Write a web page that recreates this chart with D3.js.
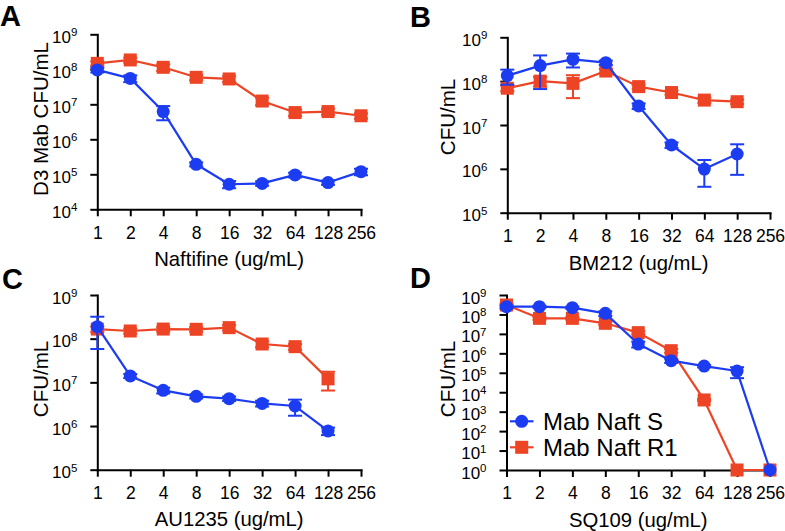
<!DOCTYPE html>
<html>
<head>
<meta charset="utf-8">
<script src="https://cdn.jsdelivr.net/npm/d3@7"></script>
<style>
  html, body { margin: 0; padding: 0; background: #fff; }
  svg { display: block; font-family: "Liberation Sans", Arial, Helvetica, sans-serif; }
</style>
</head>
<body>
<svg id="chart" width="785" height="531"></svg>
<script>
// ---------- DATA ----------
const doses = [1, 2, 4, 8, 16, 32, 64, 128, 256];
const xTickLabels = ["1", "2", "4", "8", "16", "32", "64", "128", "256"];
const seriesNames = ["Mab Naft S", "Mab Naft R1"];

// Panel A – Naftifine
const aS    = [9.6e7, 5.5e7, 6.2e6, 1.93e5, 5.2e4, 5.5e4, 9.6e4, 5.8e4, 1.19e5];
const aS_sd = [1.5e7, 1.2e7, 2.7e6, 2.5e4, 1.2e4, 8e3, 1.5e4, 8e3, 2.5e4];
const aR    = [1.48e8, 1.85e8, 1.14e8, 5.9e7, 5.3e7, 1.24e7, 5.8e6, 6.2e6, 4.7e6];
const aR_sd = [2e7, 3e7, 2.5e7, 1e7, 1e7, 3e6, 1.2e6, 1.2e6, 8e5];

// Panel B – BM212
const bS    = [1.33e8, 2.26e8, 3.15e8, 2.64e8, 2.71e7, 3.5e6, 9.9e5, 2.18e6];
const bS_sd = [5e7, 1.6e8, 1.1e8, 3e7, 4e6, 5e5, 6e5, 1.45e6];
const bR    = [6.9e7, 1.0e8, 8.9e7, 1.7e8, 7.5e7, 5.5e7, 3.7e7, 3.4e7];
const bR_sd = [1e7, 2.5e7, 4.8e7, 2e7, 8e6, 6e6, 5e6, 4e6];

// Panel C – AU1235
const cS    = [1.88e8, 1.4e7, 6.56e6, 4.78e6, 4.23e6, 3.3e6, 2.87e6, 7.7e5];
const cS_sd = [1.3e8, 1.5e6, 1e6, 5e5, 5e5, 5e5, 1.15e6, 1.5e5];
const cR    = [1.66e8, 1.5e8, 1.66e8, 1.64e8, 1.79e8, 7.55e7, 6.56e7, 1.2e7];
const cR_sd = [2.5e7, 2e7, 2e7, 2e7, 2.5e7, 1.2e7, 1e7, 5.5e6];

// Panel D – SQ109
const dS    = [2.5e8, 2.5e8, 2.23e8, 1.14e8, 3.0e6, 4.2e5, 2.2e5, 1.23e5, 1];
const dS_sd = [5e7, 3e7, 3e7, 3e7, 1e6, 1e5, 3e4, 7e4, 0];
const dR    = [3.06e8, 6.3e7, 6.3e7, 3.5e7, 1.16e7, 1.37e6, 4.0e3, 1, 1];
const dR_sd = [6e7, 1e7, 1e7, 6e6, 2e6, 3e5, 500, 0, 0];

// y tick exponents per panel
const yExpA = [4, 5, 6, 7, 8, 9];
const yExpB = [5, 6, 7, 8, 9];
const yExpC = [5, 6, 7, 8, 9];
const yExpD = [0, 1, 2, 3, 4, 5, 6, 7, 8, 9];

const xTitles = ["Naftifine (ug/mL)", "BM212 (ug/mL)", "AU1235 (ug/mL)", "SQ109 (ug/mL)"];
const yTitles = ["D3 Mab CFU/mL", "CFU/mL", "CFU/mL", "CFU/mL"];
const panelLetters = ["A", "B", "C", "D"];

// ---------- STYLE / LAYOUT ----------
const BLUE = "#1c3cf2";
const RED = "#ee4426";

const panels = [
  { letter: panelLetters[0], lx: 0, ly: 26, x0: 97.3, x1: 361, yTop: 34.3, yBot: 209.3, yExp: yExpA,
    S: aS, Ssd: aS_sd, R: aR, Rsd: aR_sd, xt: xTitles[0], xtY: 266, yt: yTitles[0], ytX: 48, ytY: 119 },
  { letter: panelLetters[1], lx: 410, ly: 27, x0: 507.3, x1: 770, yTop: 37.3, yBot: 212.7, yExp: yExpB,
    S: bS, Ssd: bS_sd, R: bR, Rsd: bR_sd, xt: xTitles[1], xtY: 269.5, yt: yTitles[1], ytX: 455, ytY: 117 },
  { letter: panelLetters[2], lx: 2, ly: 289, x0: 97.3, x1: 361, yTop: 295, yBot: 469.7, yExp: yExpC,
    S: cS, Ssd: cS_sd, R: cR, Rsd: cR_sd, xt: xTitles[2], xtY: 526, yt: yTitles[2], ytX: 48, ytY: 379 },
  { letter: panelLetters[3], lx: 410, ly: 288, x0: 506.5, x1: 770, yTop: 295, yBot: 470, yExp: yExpD,
    S: dS, Ssd: dS_sd, R: dR, Rsd: dR_sd, xt: xTitles[3], xtY: 526.5, yt: yTitles[3], ytX: 455, ytY: 379, legend: true }
];

const svg = d3.select("#chart");

function drawSeries(g, x, y, vals, sds, color, shape) {
  const pts = vals.map((v, i) => ({ d: doses[i], v: v, sd: sds[i] }));
  const ymin = y.domain()[0];
  // error bars
  const eb = g.append("g").attr("stroke", color).attr("stroke-width", 2).attr("fill", "none");
  pts.forEach(p => {
    if (!p.sd) return;
    const cx = x(p.d);
    const hi = p.v + p.sd;
    const lo = p.v - p.sd;
    eb.append("line").attr("x1", cx).attr("x2", cx).attr("y1", y(p.v)).attr("y2", y(hi));
    eb.append("line").attr("x1", cx - 7).attr("x2", cx + 7).attr("y1", y(hi)).attr("y2", y(hi));
    if (lo > ymin) {
      eb.append("line").attr("x1", cx).attr("x2", cx).attr("y1", y(p.v)).attr("y2", y(lo));
      eb.append("line").attr("x1", cx - 7).attr("x2", cx + 7).attr("y1", y(lo)).attr("y2", y(lo));
    }
  });
  // line
  const line = d3.line().x(p => x(p.d)).y(p => y(p.v));
  g.append("path").datum(pts).attr("d", line).attr("fill", "none")
    .attr("stroke", color).attr("stroke-width", 2.2).attr("stroke-linejoin", "round");
  // markers
  if (shape === "circle") {
    g.append("g").selectAll("circle").data(pts).join("circle")
      .attr("cx", p => x(p.d)).attr("cy", p => y(p.v)).attr("r", 6.5).attr("fill", color);
  } else {
    g.append("g").selectAll("rect").data(pts).join("rect")
      .attr("x", p => x(p.d) - 6.5).attr("y", p => y(p.v) - 6.5)
      .attr("width", 13).attr("height", 13).attr("fill", color);
  }
}

panels.forEach(P => {
  const g = svg.append("g");
  const x = d3.scaleLog().base(2).domain([1, 256]).range([P.x0, P.x1]);
  const yLo = Math.pow(10, P.yExp[0]);
  const yHi = Math.pow(10, P.yExp[P.yExp.length - 1]);
  const y = d3.scaleLog().domain([yLo, yHi]).range([P.yBot, P.yTop]);

  // panel letter
  g.append("text").attr("x", P.lx).attr("y", P.ly).attr("font-size", 29).attr("font-weight", "bold")
    .attr("fill", "#000").text(P.letter);

  // x axis
  const xAxis = d3.axisBottom(x).tickValues(doses)
    .tickFormat((d, i) => xTickLabels[i]).tickSize(7).tickSizeOuter(0).tickPadding(10);
  const gx = g.append("g").attr("transform", `translate(0,${P.yBot})`).call(xAxis);
  gx.attr("font-family", null).attr("font-size", null);
  gx.select(".domain").attr("stroke", "#000").attr("stroke-width", 2).attr("stroke-linecap", "square");
  gx.selectAll(".tick line").attr("stroke", "#000").attr("stroke-width", 2);
  gx.selectAll(".tick text").attr("font-size", 17.5).attr("fill", "#000");

  // y axis
  const yAxis = d3.axisLeft(y).tickValues(P.yExp.map(e => Math.pow(10, e)))
    .tickFormat(() => "10").tickSize(7).tickSizeOuter(0).tickPadding(5);
  const gy = g.append("g").attr("transform", `translate(${P.x0},0)`).call(yAxis);
  gy.attr("font-family", null).attr("font-size", null);
  gy.select(".domain").attr("stroke", "#000").attr("stroke-width", 2).attr("stroke-linecap", "square");
  gy.selectAll(".tick line").attr("stroke", "#000").attr("stroke-width", 2);
  gy.selectAll(".tick text").each(function (d) {
    const t = d3.select(this);
    const e = Math.round(Math.log10(d));
    t.text(null).attr("font-size", 17).attr("fill", "#000").attr("dy", 8).attr("x", -20);
    t.append("tspan").text("10");
    t.append("tspan").attr("dy", -6.5).attr("font-size", 11.5).text(e);
  });

  // axis titles
  g.append("text").attr("x", (P.x0 + P.x1) / 2).attr("y", P.xtY).attr("text-anchor", "middle")
    .attr("font-size", 20.3).attr("fill", "#000").text(P.xt);
  g.append("text").attr("transform", `translate(${P.ytX},${P.ytY}) rotate(-90)`)
    .attr("text-anchor", "middle").attr("font-size", 20.5).attr("fill", "#000").text(P.yt);

  // series: R1 underneath, S on top
  drawSeries(g, x, y, P.R, P.Rsd, RED, "square");
  drawSeries(g, x, y, P.S, P.Ssd, BLUE, "circle");

  if (P.legend) {
    const lg = g.append("g");
    const items = [
      { name: seriesNames[0], color: BLUE, shape: "circle", y: 421.3 },
      { name: seriesNames[1], color: RED, shape: "square", y: 447.3 }
    ];
    items.forEach(it => {
      lg.append("line").attr("x1", 510).attr("x2", 533.5).attr("y1", it.y).attr("y2", it.y)
        .attr("stroke", it.color).attr("stroke-width", 2.2);
      if (it.shape === "circle") {
        lg.append("circle").attr("cx", 521.7).attr("cy", it.y).attr("r", 6.5).attr("fill", it.color);
      } else {
        lg.append("rect").attr("x", 521.7 - 6.5).attr("y", it.y - 6.5).attr("width", 13).attr("height", 13).attr("fill", it.color);
      }
      lg.append("text").attr("x", 543).attr("y", it.y + 8.5).attr("font-size", 24).attr("fill", "#000").text(it.name);
    });
  }
});
</script>
</body>
</html>
